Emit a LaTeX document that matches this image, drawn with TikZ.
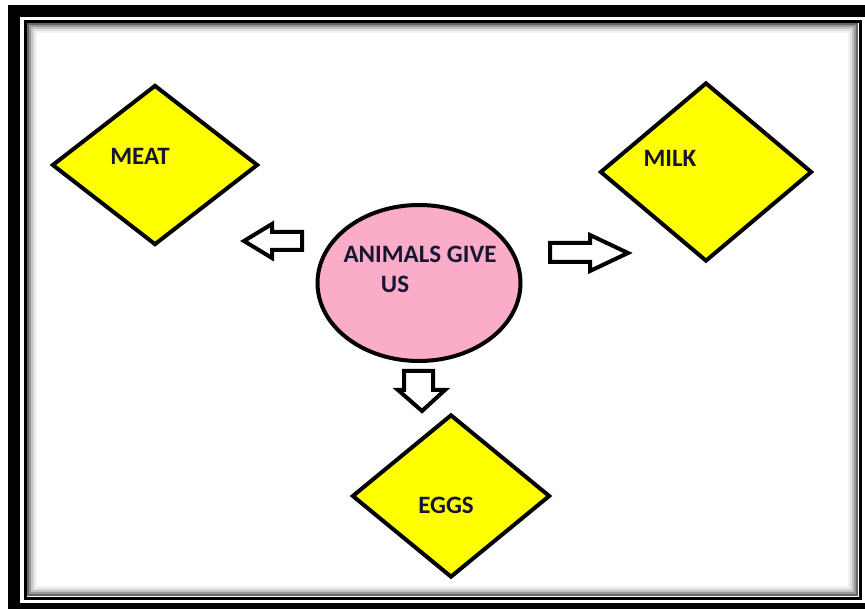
\documentclass[tikz,border=0pt]{standalone}
\usepackage{fontspec}
\setmainfont{Carlito}
\usetikzlibrary{shapes.geometric}
\definecolor{diayellow}{RGB}{255,255,0}
\definecolor{ovalpink}{RGB}{250,172,200}
\definecolor{labelnavy}{RGB}{22,22,50}
\begin{document}
\begin{tikzpicture}[x=1pt,y=-1pt,
  dia/.style={diamond,draw=black,line width=4pt,fill=diayellow,inner sep=0pt,line join=miter},
  lbl/.style={text=labelnavy,font=\bfseries\fontsize{25}{27}\selectfont,inner sep=0pt},
  blockarrow/.style={draw=black,line width=4pt,fill=white,line join=miter}]
\useasboundingbox (0,0) rectangle (865,609);
\fill[white] (0,0) rectangle (865,609);
\begin{scope}
\clip (0,0) rectangle (865,609);
% outer thick band
\draw[line width=12pt] (14,11) rectangle (871,609);
% inner thin frame with inner shadow
\draw[black!5,line width=2pt] (36,32) rectangle (849,587);
\draw[black!12,line width=2pt] (34,30) rectangle (851,589);
\draw[black!24,line width=2pt] (32,28) rectangle (853,591);
\draw[black!40,line width=2pt] (30,26) rectangle (855,593);
\draw[black!60,line width=2pt] (28,24) rectangle (857,595);
\draw[black,line width=3pt] (25,22) rectangle (860,598);
\end{scope}
% diamonds
\node[dia,minimum width=206pt,minimum height=160pt] (meat) at (155,165) {};
\node[dia,minimum width=212pt,minimum height=179pt] (milk) at (706,172) {};
\node[dia,minimum width=198pt,minimum height=163pt] (eggs) at (451,496) {};
\node[lbl] (meatt) at (140,156) {MEAT};
\node[lbl] (milkt) at (670,158) {MILK};
\node[lbl] (eggst) at (446,505) {EGGS};
% centre oval
\node[ellipse,draw=black,line width=4pt,fill=ovalpink,minimum width=203pt,minimum height=156pt] (animals) at (419,283) {};
\node[lbl] (t1) at (420,254) {ANIMALS GIVE};
\node[lbl] (t2) at (395,284) {US};
% block arrows
\draw[blockarrow] (302,232) -- (272,232) -- (272,224) -- (244,241) -- (272,258) -- (272,250) -- (302,250) -- cycle;
\draw[blockarrow] (550,243) -- (590,243) -- (590,235) -- (628,253) -- (590,271) -- (590,262) -- (550,262) -- cycle;
\draw[blockarrow] (404,371) -- (433,371) -- (433,390) -- (445,390) -- (422,411) -- (398,390) -- (404,390) -- cycle;
\end{tikzpicture}
\end{document}
